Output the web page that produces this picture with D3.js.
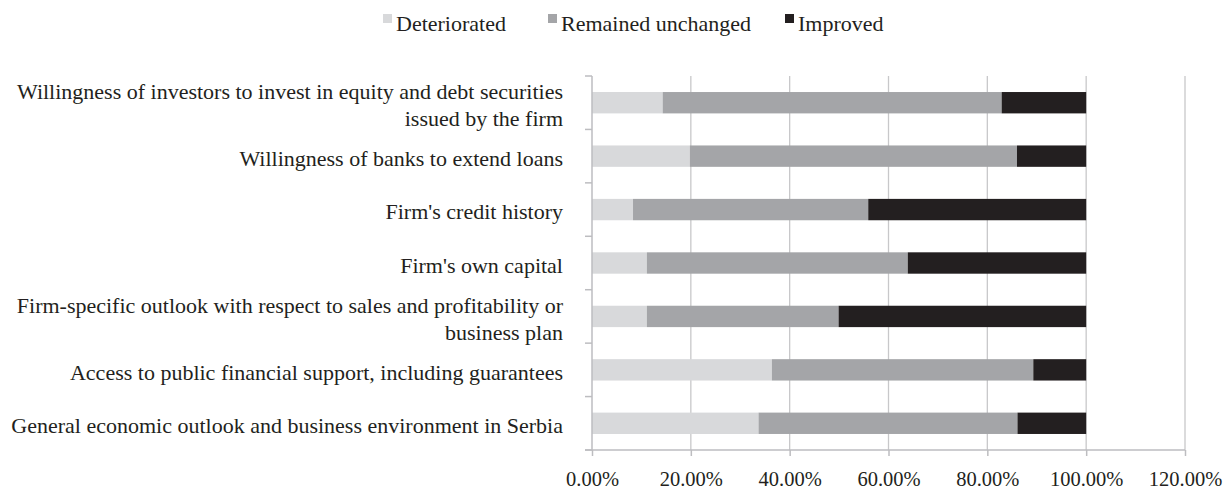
<!DOCTYPE html>
<html>
<head>
<meta charset="utf-8">
<script src="https://cdn.jsdelivr.net/npm/d3@7"></script>
<style>
  body { margin: 0; background: #fff; }
  svg text { font-family: "Liberation Serif", "DejaVu Serif", serif; fill: #231f20; }
</style>
</head>
<body>
<svg id="chart" width="1230" height="496"></svg>
<script>
// categories, top to bottom (\n marks a line break)
const categories = [
  "Willingness of investors to invest in equity and debt securities\nissued by the firm",
  "Willingness of banks to extend loans",
  "Firm's credit history",
  "Firm's own capital",
  "Firm-specific outlook with respect to sales and profitability or\nbusiness plan",
  "Access to public financial support, including guarantees",
  "General economic outlook and business environment in Serbia"
]
const seriesNames = ['Deteriorated', 'Remained unchanged', 'Improved']
const deteriorated = [14.3, 19.8, 8.3, 11.1, 11.1, 36.4, 33.7]
const unchanged    = [68.6, 66.2, 47.6, 52.8, 38.8, 52.9, 52.4]
const improved     = [17.1, 14.0, 44.1, 36.1, 50.1, 10.7, 13.9]
const xTicks = [0, 20, 40, 60, 80, 100, 120]
const colors = ['#d8d9db', '#a4a5a8', '#231f20']

const svg = d3.select('#chart')
const plotLeft = 592, plotRight = 1185, plotTop = 76, plotBottom = 450

var x = d3.scaleLinear().domain([0, 120]).range([plotLeft, plotRight])
var y = d3.scaleBand().domain(categories).range([plotTop, plotBottom]).paddingInner(0.6).paddingOuter(0.3)
var yb = d3.scaleBand().domain(categories).range([plotTop, plotBottom])

// gridlines
svg.append('g').selectAll('line')
  .data(xTicks.slice(1))
  .enter().append('line')
  .attr('x1', d => x(d)).attr('x2', d => x(d))
  .attr('y1', plotTop).attr('y2', plotBottom)
  .attr('stroke', '#c8c8ca').attr('stroke-width', 1.3)

// stacked bars
var rows = categories.map((c, i) => ({cat: c, Deteriorated: deteriorated[i], 'Remained unchanged': unchanged[i], Improved: improved[i]}))
var stacked = d3.stack().keys(seriesNames)(rows)

svg.append('g').selectAll('g')
  .data(stacked)
  .enter().append('g')
  .attr('fill', (d, i) => colors[i])
  .selectAll('rect')
  .data(d => d)
  .enter().append('rect')
  .attr('x', d => x(d[0]))
  .attr('width', d => x(d[1]) - x(d[0]))
  .attr('y', d => y(d.data.cat))
  .attr('height', y.bandwidth())

// left axis line and band ticks
var bandEdges = categories.map(c => yb(c)).concat([plotBottom])
svg.append('line')
  .attr('x1', plotLeft).attr('x2', plotLeft).attr('y1', plotTop).attr('y2', plotBottom)
  .attr('stroke', '#bdbdc0').attr('stroke-width', 1.5)
svg.append('g').selectAll('line')
  .data(bandEdges)
  .enter().append('line')
  .attr('x1', plotLeft - 7).attr('x2', plotLeft)
  .attr('y1', d => d).attr('y2', d => d)
  .attr('stroke', '#bdbdc0').attr('stroke-width', 1.5)

// bottom axis
var xAxis = d3.axisBottom(x).tickValues(xTicks).tickSize(6).tickSizeOuter(0)
  .tickFormat(d => d.toFixed(2) + '%')
var gx = svg.append('g').attr('transform', 'translate(0,' + plotBottom + ')').call(xAxis)
gx.select('.domain').attr('d', 'M' + (plotLeft - 7) + ',0H' + plotRight).attr('stroke', '#bdbdc0').attr('stroke-width', 1.5)
gx.selectAll('.tick line').attr('stroke', '#bdbdc0').attr('stroke-width', 1.5)
gx.selectAll('.tick text')
  .attr('y', 21).attr('dy', '0.71em')
  .style('font-family', '"Liberation Serif", serif')
  .style('font-size', '20.5px').attr('fill', '#231f20')

// category labels
var lab = svg.append('g').selectAll('text')
  .data(categories)
  .enter().append('text')
  .attr('text-anchor', 'end')
  .style('font-size', '22px')
  .attr('transform', d => 'translate(' + (plotLeft - 29) + ',' + (yb(d) + yb.bandwidth() / 2) + ')')

lab.each(function(d) {
  var lines = d.split('\n')
  var t = d3.select(this)
  lines.forEach((ln, i) => {
    t.append('tspan')
      .attr('x', 0)
      .attr('y', (i - (lines.length - 1) / 2) * 27 + 2)
      .attr('dy', '0.35em')
      .text(ln)
  })
})

// legend
var legX = [383, 548, 785]
var leg = svg.append('g').selectAll('g')
  .data(seriesNames)
  .enter().append('g')
  .attr('transform', (d, i) => 'translate(' + legX[i] + ',0)')
leg.append('rect').attr('x', 0).attr('y', 14).attr('width', 9).attr('height', 9)
  .attr('fill', (d, i) => colors[i])
leg.append('text').attr('x', 13).attr('y', 31).style('font-size', '22px').text(d => d)
</script>
</body>
</html>
